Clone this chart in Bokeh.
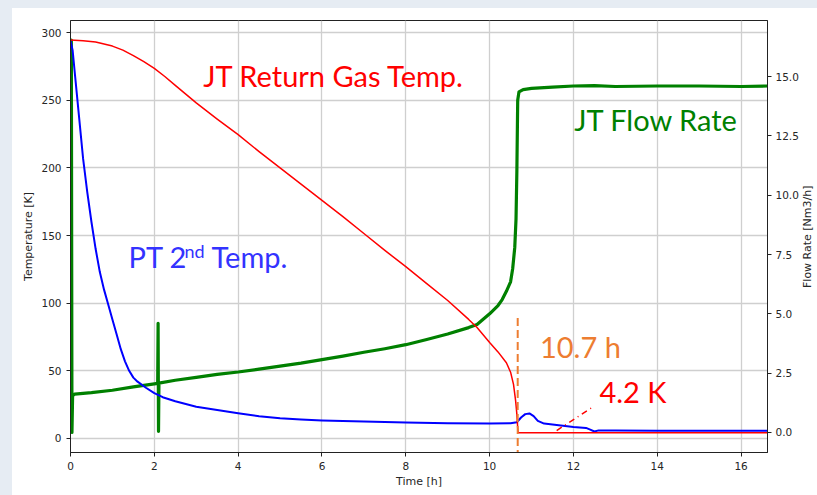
from bokeh.plotting import figure
from bokeh.models import Range1d, LinearAxis, Label, FixedTicker, NumeralTickFormatter, Spacer, Div
from bokeh.layouts import column, row
from bokeh.embed import file_html
from bokeh.resources import INLINE

# ---------------- data ----------------
# JT return gas temperature [K]
red_t = [0, 0.3, 0.6, 1.0, 1.25, 1.5, 1.75, 2.0, 2.25, 2.5, 2.75, 3.0, 3.5, 4.0, 4.5, 5.0,
         5.5, 6.0, 6.5, 7.0, 7.5, 8.0, 8.5, 9.0, 9.5, 9.7, 10.0, 10.2, 10.4, 10.5, 10.57,
         10.62, 10.65, 10.67, 10.68, 16.63]
red_T = [294.4, 294.0, 293.0, 290, 287, 283, 278.5, 273.5, 267.5, 261, 254.5, 248, 236,
         224.5, 212, 200, 188, 176, 164, 151.5, 139, 127, 114.5, 102, 88, 82, 71, 64, 56,
         49, 40, 28, 18, 8, 4.2, 4.2]

# PT 2nd stage temperature [K]
blue_t = [0, 0.05, 0.1, 0.2, 0.3, 0.4, 0.5, 0.6, 0.7, 0.8, 0.9, 1.0, 1.1, 1.2, 1.3, 1.4,
          1.5, 1.6, 1.8, 2.0, 2.2, 2.5, 3.0, 3.5, 4.0, 4.5, 5.0, 5.5, 6.0, 7.0, 8.0, 9.0,
          10.0, 10.5, 10.65, 10.75, 10.85, 10.95, 11.05, 11.15, 11.3, 11.6, 12.0, 12.3,
          12.4, 12.5, 12.6, 13.0, 14.0, 15.0, 16.63]
blue_T = [294, 287, 271, 239, 207, 182, 160, 140, 123, 110, 99, 88, 77, 66, 57, 50,
          45, 42, 37.5, 33.5, 30.5, 27.5, 23.5, 21, 18.7, 16.5, 15, 14, 13.3, 12.5, 11.8,
          11.2, 11.0, 11.2, 12, 15.5, 18, 18.5, 16.5, 13, 11, 10, 8.5, 7.8,
          6.5, 5.2, 6.0, 5.9, 5.8, 5.8, 5.8]

# JT flow rate [Nm3/h]
green_t = [0.0, 0.02, 0.035, 0.05, 0.1, 0.5, 1.0, 1.5, 2.0, 2.08, 2.09, 2.1, 2.11, 2.5,
           3.0, 3.5, 4.0, 4.5, 5.0, 5.5, 6.0, 6.5, 7.0, 7.5, 8.0, 8.5, 9.0, 9.5, 9.7,
           10.0, 10.2, 10.3, 10.4, 10.5, 10.55, 10.6, 10.63, 10.65, 10.67, 10.7, 10.8,
           11.0, 11.5, 12.0, 12.5, 13.0, 14.0, 15.0, 16.0, 16.63]
green_F = [0.1, 16.53, 0.0, 1.55, 1.62, 1.68, 1.78, 1.92, 2.05, 2.07, 4.6, 0.05, 2.08, 2.2,
           2.32, 2.45, 2.55, 2.67, 2.8, 2.92, 3.07, 3.22, 3.38, 3.53, 3.7, 3.92, 4.15, 4.42,
           4.55, 5.0, 5.35, 5.6, 5.95, 6.35, 6.9, 7.8, 9.0, 11.0, 14.0, 14.35, 14.45,
           14.5, 14.55, 14.6, 14.62, 14.58, 14.6, 14.6, 14.58, 14.6]

cooldown_time = 10.67     # h, end of cool-down (marked "10.7 h")
final_temp = 4.2          # K

x_ticks = [0, 2, 4, 6, 8, 10, 12, 14, 16]
temp_ticks = [0, 50, 100, 150, 200, 250, 300]
flow_ticks = [0.0, 2.5, 5.0, 7.5, 10.0, 12.5, 15.0]

# ---------------- figure ----------------
p = figure(width=790, height=487, output_backend="svg", toolbar_location=None,
           x_range=Range1d(0, 16.63), y_range=Range1d(-10.35, 308.9),
           min_border_left=58, min_border_right=35, min_border_top=12, min_border_bottom=43)
p.extra_y_ranges = {"flow": Range1d(-0.843, 17.36)}

p.background_fill_color = "white"
p.border_fill_color = "white"
p.outline_line_color = "#222222"
p.outline_line_width = 1

tick_font = "DejaVu Sans"

def style_axis(ax):
    ax.major_label_text_font = tick_font
    ax.major_label_text_font_size = "10.5px"
    ax.major_label_text_color = "#262626"
    ax.axis_label_text_font = tick_font
    ax.axis_label_text_font_size = "11px"
    ax.axis_label_text_font_style = "normal"
    ax.axis_label_text_color = "#262626"
    ax.major_tick_out = 4
    ax.major_tick_in = 0
    ax.minor_tick_line_color = None
    ax.axis_line_color = "#222222"
    ax.major_tick_line_color = "#222222"

style_axis(p.xaxis[0])
style_axis(p.yaxis[0])
p.xaxis[0].ticker = FixedTicker(ticks=x_ticks)
p.yaxis[0].ticker = FixedTicker(ticks=temp_ticks)
p.xaxis[0].axis_label = "Time [h]"
p.yaxis[0].axis_label = "Temperature [K]"
p.xaxis[0].axis_label_standoff = 2
p.yaxis[0].axis_label_standoff = 3

flow_axis = LinearAxis(y_range_name="flow",
                       ticker=FixedTicker(ticks=flow_ticks),
                       formatter=NumeralTickFormatter(format="0.0"))
style_axis(flow_axis)
flow_axis.major_label_standoff = 4
p.add_layout(flow_axis, "right")

p.xgrid.ticker = FixedTicker(ticks=x_ticks)
p.ygrid.ticker = FixedTicker(ticks=temp_ticks)
p.xgrid.grid_line_color = "#cfcfcf"
p.ygrid.grid_line_color = "#cfcfcf"
p.xgrid.grid_line_width = 1.3
p.ygrid.grid_line_width = 1.3

# ---------------- curves ----------------
p.line(green_t, green_F, y_range_name="flow", line_color="#008000", line_width=3.2,
       line_join="round")
p.line(blue_t, blue_T, line_color="#0000ff", line_width=2, line_join="round")
p.line(red_t, red_T, line_color="#ff0000", line_width=1.5, line_join="round")

# annotation lines
p.line([cooldown_time, cooldown_time], [89, -12], line_color="#ED7D31", line_width=2,
       line_dash="8 4")
p.line([11.6, 12.48], [final_temp + 1.7, 23.6], line_color="#ff0000", line_width=1.5,
       line_dash="6 4 1 4")

# ---------------- texts ----------------
ann_font = "Lato"
def lab(x, y, text, color, size="29px"):
    p.add_layout(Label(x=x, y=y, text=text, text_color=color, text_font=ann_font,
                       text_font_size=size, text_align="left",
                       text_baseline="alphabetic"))

lab(3.17, 268.2, "JT Return Gas Temp.", "#ff0000")
lab(12.02, 235.7, "JT Flow Rate", "#008000")
lab(1.384, 134.5, "PT 2", "#3333ff")
lab(2.72, 138.5, "nd", "#3333ff", size="18px")
lab(3.364, 134.5, "Temp.", "#3333ff")
lab(11.2, 68.0, "10.7 h", "#ED7D31")
lab(12.62, 34.7, "4.2 K", "#ff0000")

# right axis title (reads bottom-to-top, as in the reference)
flow_title = Div(
    text='<div style="writing-mode:vertical-rl;transform:rotate(180deg);width:12px;'
         'height:456px;display:flex;align-items:center;justify-content:center;'
         'position:relative;left:-5px;top:-4px;'
         'font-family:\'DejaVu Sans\';font-size:11px;color:#262626;white-space:nowrap;">'
         'Flow Rate [Nm3/h]</div>',
    width=15, height=456, styles={"background-color": "white"})

# slide background strips around the white chart panel
slide_bg = "#e6ecf3"
top_strip = Spacer(width=817, height=8, styles={"background-color": slide_bg})
left_strip = Spacer(width=12, height=487, styles={"background-color": slide_bg})
page = column(top_strip, row(left_strip, p, flow_title, spacing=0), spacing=0)

open("out.html", "w").write(file_html(page, INLINE))
